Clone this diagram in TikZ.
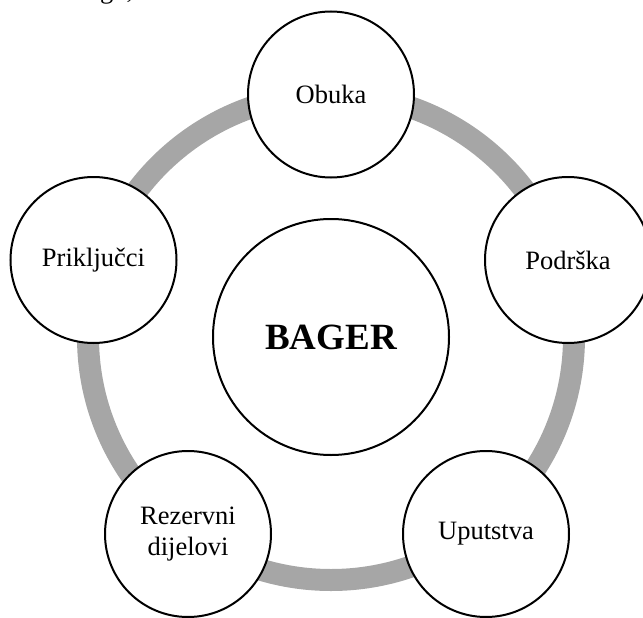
\documentclass[tikz,border=0pt]{standalone}
\usepackage{fontspec}
\setmainfont{Liberation Serif}
\definecolor{ringgray}{HTML}{A6A6A6}
\begin{document}
\begin{tikzpicture}[x=1pt,y=-1pt,
    item/.style={circle,draw=black,line width=2pt,fill=white,
      minimum size=166pt,inner sep=0pt,align=center,
      font=\fontsize{26.5}{31}\selectfont},
    hub/.style={circle,draw=black,line width=2pt,fill=white,
      minimum size=236pt,inner sep=0pt,
      font=\fontsize{37}{40}\selectfont\bfseries},
    ring/.style={draw=ringgray,line width=22pt}]
  \useasboundingbox (0,0) rectangle (643,618);

  % line of running text ending just above the figure
  \node[anchor=base west,inner sep=0pt,font=\fontsize{26.5}{31}\selectfont] (prev) at (100,-1) {gu,};

  % the cycle behind the satellites
  \coordinate (mid) at (331,337);
  \draw[ring] (mid) circle[radius=243pt];

  % centre
  \node[hub] (bager) at (331,337) {BAGER};

  % satellites
  \node[item] (obuka)  at (331,94.5) {Obuka};
  \node[item] (podrska) at (568,260) {Podrška};
  \node[item] (uputstva) at (486,534) {Uputstva};
  \node[item] (rezervni) at (188,534) {Rezervni\\dijelovi};
  \node[item] (prikljucci) at (93.5,260) {Priključci};
\end{tikzpicture}
\end{document}
